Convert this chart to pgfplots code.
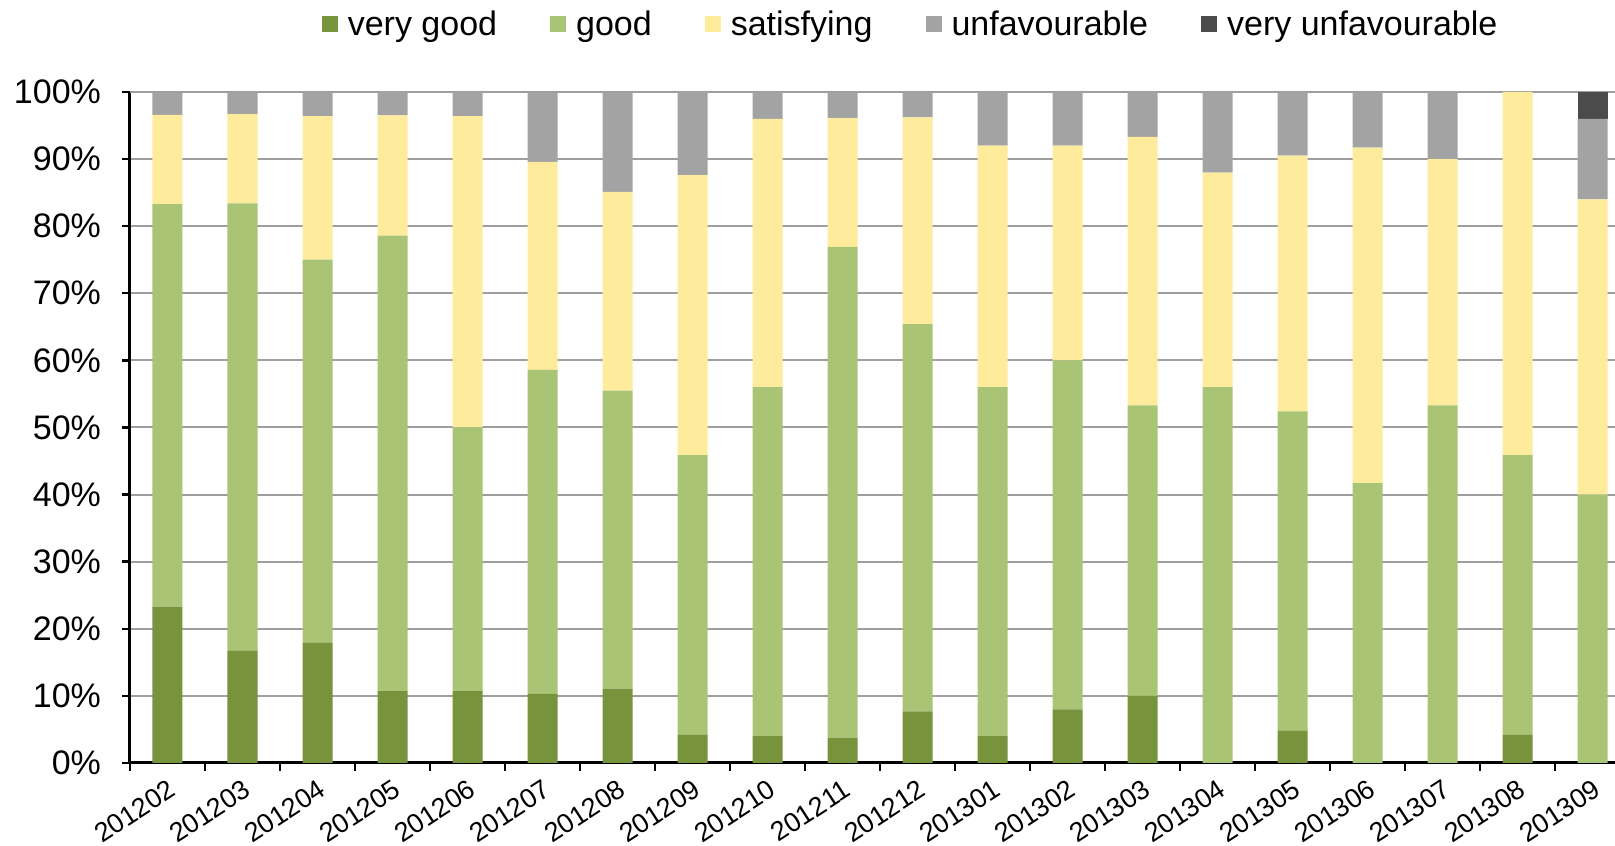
\documentclass[border=0pt]{standalone}
\usepackage{fontspec}
\setmainfont{Liberation Sans}
\usepackage{pgfplots}
\pgfplotsset{compat=1.18}
\usepackage{pgfplotstable}

\definecolor{vgood}{HTML}{77933C}
\definecolor{good}{HTML}{A9C475}
\definecolor{satis}{HTML}{FFEB9C}
\definecolor{unfav}{HTML}{A3A3A3}
\definecolor{vunfav}{HTML}{4B4B4B}

% share of answers per month, in percent
\pgfplotstableread{
m  vg    good  sat   unf   vu
0  23.3  60.0  13.3  3.3   0
1  16.7  66.7  13.3  3.3   0
2  17.9  57.1  21.4  3.6   0
3  10.7  67.9  17.9  3.6   0
4  10.7  39.3  46.4  3.6   0
5  10.3  48.3  31.0  10.3  0
6  11.1  44.4  29.6  14.8  0
7  4.2   41.7  41.7  12.5  0
8  4.0   52.0  40.0  4.0   0
9  3.8   73.1  19.2  3.8   0
10 7.7   57.7  30.8  3.8   0
11 4.0   52.0  36.0  8.0   0
12 8.0   52.0  32.0  8.0   0
13 10.0  43.3  40.0  6.7   0
14 0     56.0  32.0  12.0  0
15 4.8   47.6  38.1  9.5   0
16 0     41.7  50.0  8.3   0
17 0     53.3  36.7  10.0  0
18 4.2   41.7  54.1  0     0
19 0     40.0  44.0  12.0  4.0
}\ratings

\begin{document}
\begin{tikzpicture}
\begin{axis}[
  name=ax,
  scale only axis,
  width=742.5pt, height=335.5pt,
  ybar stacked, bar width=15pt,
  xmin=-0.5, xmax=19.3,
  ymin=0, ymax=100,
  axis lines=left,
  axis line style={-, line width=1.5pt, black},
  tick align=outside,
  xtick={0,...,19},
  xticklabels={201202,201203,201204,201205,201206,201207,201208,201209,201210,201211,
    201212,201301,201302,201303,201304,201305,201306,201307,201308,201309},
  xticklabel style={rotate=33, anchor=north east, inner sep=2pt, yshift=-1pt,
    font=\fontsize{13.5}{16}\selectfont},
  major x tick style={draw=none},
  minor xtick={-0.5,0.5,...,18.5},
  minor x tick style={black, line width=1.2pt},
  minor tick length=4pt,
  ytick={0,10,...,90},
  yticklabels={0\%,10\%,20\%,30\%,40\%,50\%,60\%,70\%,80\%,90\%},
  extra y ticks={100},
  extra y tick labels={100\%},
  extra y tick style={grid style={black!12, line width=1pt}},
  yticklabel style={font=\fontsize{17}{20}\selectfont, xshift=-7pt},
  major y tick style={black, line width=1.2pt},
  major tick length=4pt,
  ymajorgrids,
  major grid style={black!38, line width=1pt},
  legend style={at={(0.525,1.101)}, anchor=center, draw=none,
    legend columns=-1, font=\fontsize{17}{20}\selectfont,
    nodes={inner sep=0pt},
    /tikz/every odd column/.append style={column sep=5pt},
    /tikz/every even column/.append style={column sep=26.5pt}},
  legend image code/.code={\fill[#1] (0pt,-3.8pt) rectangle (8pt,4.2pt);},
]
\addplot[fill=vgood, draw=none] table[x=m, y=vg]{\ratings};
\addplot[fill=good, draw=none] table[x=m, y=good]{\ratings};
\addplot[fill=satis, draw=none] table[x=m, y=sat]{\ratings};
\addplot[fill=unfav, draw=none] table[x=m, y=unf]{\ratings};
\addplot[fill=vunfav, draw=none] table[x=m, y=vu]{\ratings};
\legend{very good, good, satisfying, unfavourable, very unfavourable}
\end{axis}
\pgfresetboundingbox
\path[use as bounding box] ([shift={(-65pt,-41pt)}]ax.south west) rectangle ++(807.5pt,422.5pt);
\end{tikzpicture}
\end{document}
